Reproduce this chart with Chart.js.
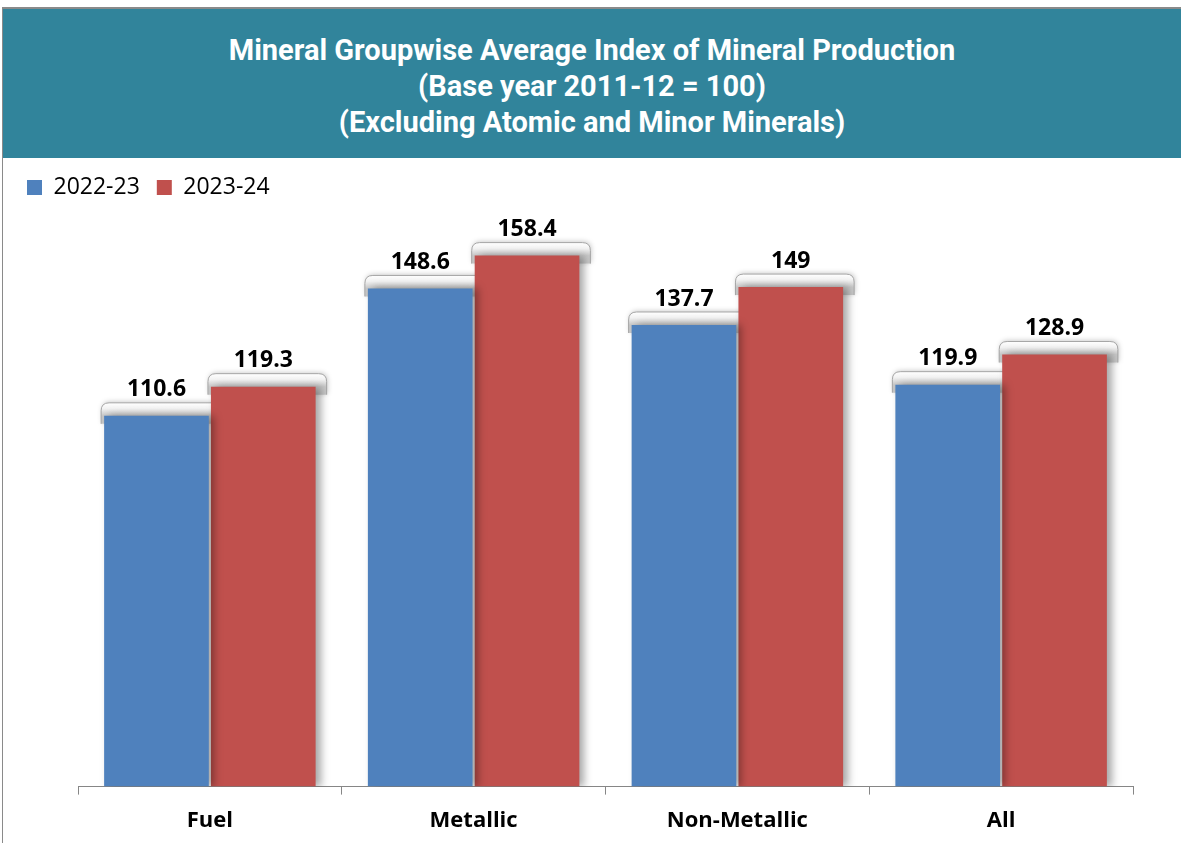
<!DOCTYPE html>
<html>
<head>
<meta charset="utf-8">
<script src="https://cdn.jsdelivr.net/npm/chart.js@4/dist/chart.umd.min.js"></script>
<style>
  html,body{margin:0;padding:0;background:#fff;width:1181px;height:843px;overflow:hidden;}
  #topline{position:absolute;left:2px;top:7px;width:1179px;height:2px;background:#8a8a8a;}
  #leftline{position:absolute;left:2px;top:7px;width:1px;height:836px;background:#8a8a8a;}
  #header{position:absolute;left:3px;top:9px;width:1178px;height:149px;background:#31849B;color:#fff;
    font-family:Roboto,"Open Sans",sans-serif;font-weight:bold;font-size:29px;text-align:center;line-height:36px;
    box-sizing:border-box;padding-top:23px;}
  #wrap{position:absolute;left:3px;top:160px;width:1178px;height:697px;}
</style>
</head>
<body>
<div id="topline"></div>
<div id="leftline"></div>
<div id="header">Mineral Groupwise Average Index of Mineral Production<br>(Base year 2011-12 = 100)<br>(Excluding Atomic and Minor Minerals)</div>
<div id="wrap"><canvas id="c" width="1178" height="697"></canvas></div>
<script>
const categories = ["Fuel", "Metallic", "Non-Metallic", "All"];
const seriesNames = ["2022-23", "2023-24"];
const values2022 = [110.6, 148.6, 137.7, 119.9];
const values2023 = [119.3, 158.4, 149, 128.9];

function rr(ctx, l, t, r, b, rad){
  ctx.beginPath();
  ctx.moveTo(l+rad, t);
  ctx.lineTo(r-rad, t);
  ctx.quadraticCurveTo(r, t, r, t+rad);
  ctx.lineTo(r, b);
  ctx.lineTo(l, b);
  ctx.lineTo(l, t+rad);
  ctx.quadraticCurveTo(l, t, l+rad, t);
  ctx.closePath();
}

const deco = {
  id: 'deco',
  beforeDatasetsDraw(chart){
    const ctx = chart.ctx;
    chart.data.datasets.forEach((ds, i) => {
      chart.getDatasetMeta(i).data.forEach(bar => {
        const p = bar.getProps(['x','y','width'], true);
        const l = p.x - p.width/2 - 3, r = p.x + p.width/2 + 11, t = p.y - 13, b = p.y + 8;
        ctx.save();
        ctx.shadowColor = 'rgba(0,0,0,0.22)';
        ctx.shadowBlur = 5;
        ctx.shadowOffsetX = 1;
        ctx.shadowOffsetY = -1;
        rr(ctx, l, t, r, b, 8);
        const g = ctx.createLinearGradient(0, t, 0, p.y);
        g.addColorStop(0, '#ffffff');
        g.addColorStop(0.45, '#f2f2f2');
        g.addColorStop(1, '#c8c8c8');
        ctx.fillStyle = g;
        ctx.fill();
        ctx.shadowColor = 'transparent';
        ctx.strokeStyle = '#a6a6a6';
        ctx.lineWidth = 1;
        ctx.beginPath();
        ctx.moveTo(l, b);
        ctx.lineTo(l, t+8);
        ctx.quadraticCurveTo(l, t, l+8, t);
        ctx.lineTo(r-8, t);
        ctx.quadraticCurveTo(r, t, r, t+8);
        ctx.lineTo(r, b);
        ctx.stroke();
        ctx.restore();
      });
    });
    ctx.save();
    ctx.shadowColor = 'rgba(0,0,0,0.35)';
    ctx.shadowBlur = 8;
    ctx.shadowOffsetX = 5;
    ctx.shadowOffsetY = 0;
  },
  afterDatasetsDraw(chart){
    const ctx = chart.ctx;
    ctx.restore();
    ctx.save();
    ctx.fillStyle = '#000';
    ctx.font = 'bold 23px "Open Sans", sans-serif';
    ctx.textAlign = 'center';
    ctx.textBaseline = 'middle';
    chart.data.datasets.forEach((ds, i) => {
      chart.getDatasetMeta(i).data.forEach((bar, j) => {
        const p = bar.getProps(['x','y'], true);
        ctx.fillText(String(ds.data[j]), p.x, p.y - 26);
      });
    });
    ctx.restore();
  }
};

new Chart(document.getElementById('c'), {
  type: 'bar',
  data: {
    labels: categories,
    datasets: [
      {label: seriesNames[0], data: values2022, backgroundColor: '#4F81BD', categoryPercentage: 0.81, barPercentage: 0.98},
      {label: seriesNames[1], data: values2023, backgroundColor: '#C0504D', categoryPercentage: 0.81, barPercentage: 0.98}
    ]
  },
  options: {
    responsive: false,
    animation: false,
    layout: {padding: {left: 7, right: 48, top: -1, bottom: 10}},
    plugins: {
      legend: {
        display: true, position: 'top', align: 'start',
        labels: {boxWidth: 15, boxHeight: 15, padding: 17, color: '#000',
          font: {family: '"Open Sans", sans-serif', size: 23}}
      },
      tooltip: {enabled: false}
    },
    scales: {
      x: {
        grid: {offset: true, drawOnChartArea: false, tickLength: 8, color: '#868686', tickColor: '#868686'},
        border: {color: '#868686', width: 1},
        ticks: {padding: 13, color: '#000', font: {family: '"Open Sans", sans-serif', size: 22, weight: 'bold'}}
      },
      y: {
        min: 0, max: 172.3,
        grid: {display: false}, border: {display: false},
        ticks: {display: false},
        afterFit(s){ s.width = 68; }
      }
    }
  },
  plugins: [deco]
});
</script>
</body>
</html>
